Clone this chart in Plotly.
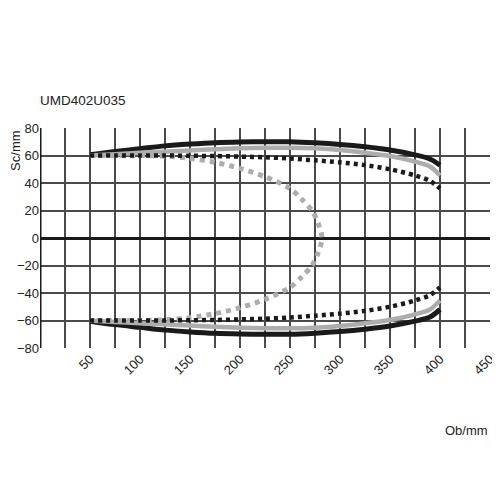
import plotly.graph_objects as go

# Ob/mm positions (shared by the three open curves)
ob = [50, 75, 100, 125, 150, 175, 200, 225, 250, 275, 300, 325, 350, 375, 390, 400]

# upper / lower halves
black_solid_up = [60.5, 63, 65, 67, 68.3, 69.3, 69.8, 70, 70, 69.2, 68, 66.3, 64, 60.5, 57.5, 53]
black_solid_dn = [-60.5, -63, -65, -67, -68.3, -69.3, -69.8, -70, -70, -69.2, -68, -66.3, -64, -60.5, -57.5, -52]
grey_solid_up = [60, 61, 62, 62.8, 63.7, 64.5, 65.2, 65.6, 65.7, 65.2, 64, 62, 59.6, 55.5, 52, 45.5]
grey_solid_dn = [-60, -61, -62, -62.8, -63.7, -64.5, -65.2, -65.6, -65.7, -65.2, -64, -62, -59.6, -55.5, -52, -45.5]
black_dot_up = [60, 60, 60, 60, 59.8, 59.6, 59.2, 58.7, 57.8, 56.5, 55, 53, 50, 45.5, 41.5, 36]
black_dot_dn = [-60, -60, -60, -60, -59.8, -59.6, -59.2, -58.7, -57.8, -56.5, -55, -53, -50, -45.5, -41.5, -36]

# grey dotted loop, goes round through the zero line
grey_dot_x = [50, 75, 100, 125, 150, 175, 200, 225, 250, 262, 272, 278, 282,
              278, 272, 262, 250, 225, 200, 175, 150, 125, 100, 75, 50]
grey_dot_y = [60, 60, 60, 59.5, 58, 55, 50.7, 44.6, 36, 28, 20, 11, 0,
              -11, -20, -28, -36, -44.6, -50.7, -55, -58, -59.5, -60, -60, -60]

x_ticks = list(range(0, 475, 25))
x_labels = ["" if (v % 50 or v == 0) else str(v) for v in x_ticks]
y_ticks = [-80, -60, -40, -20, 0, 20, 40, 60, 80]

BLACK = "#1a1a1a"
GREY = "#adadad"
FONT = "Liberation Sans, Arial, sans-serif"

fig = go.Figure()


def curve(x, y, color, width, dash="solid"):
    fig.add_trace(go.Scatter(x=x, y=y, mode="lines",
                             line=dict(color=color, width=width, dash=dash, shape="spline", smoothing=0.8),
                             hoverinfo="skip", showlegend=False))


for ys in (black_solid_up, black_solid_dn):
    curve(ob, ys, BLACK, 5)
for ys in (grey_solid_up, grey_solid_dn):
    curve(ob, ys, GREY, 4.5)
curve(grey_dot_x, grey_dot_y, GREY, 5, "5px,5px")
for ys in (black_dot_up, black_dot_dn):
    curve(ob, ys, BLACK, 4.5, "4px,4px")

# page body adds ~8px, so the figure is a little smaller than the window
fig.update_layout(
    width=492, height=492,
    margin=dict(l=32, r=10, t=120, b=152),
    paper_bgcolor="white", plot_bgcolor="white",
    font=dict(family=FONT, size=13, color="#222"),
    xaxis=dict(range=[0, 450], tickvals=x_ticks, ticktext=x_labels, tickangle=-45,
               showgrid=True, gridcolor="#4a4a4a", gridwidth=1.5, automargin=False,
               zeroline=False, showline=False, ticks="", ticklen=0,
               tickfont=dict(size=13, color="#222")),
    yaxis=dict(range=[-80, 80], tickvals=y_ticks, showgrid=True, gridcolor="#4a4a4a", gridwidth=1.5,
               zeroline=True, zerolinecolor=BLACK, zerolinewidth=2.5, automargin=False,
               showline=False, ticks="", tickfont=dict(size=13, color="#222")),
    shapes=[
        dict(type="line", xref="x", yref="y", x0=0, x1=0, y0=-80, y1=80,
             line=dict(color=BLACK, width=3)),
    ],
    annotations=[
        dict(text="UMD402U035", xref="paper", yref="paper", x=-0.005, y=1.127,
             xanchor="left", yanchor="middle", showarrow=False, font=dict(size=13.5, color="#222")),
        dict(text="Sc/mm", xref="paper", yref="paper", x=-0.056, y=0.995,
             textangle=-90, xanchor="center", yanchor="top", showarrow=False,
             font=dict(size=13, color="#222")),
        dict(text="Ob/mm", xref="paper", yref="paper", x=1.0, y=-0.373,
             xanchor="right", yanchor="middle", showarrow=False, font=dict(size=13, color="#222")),
    ],
)

fig.write_html("out.html")
